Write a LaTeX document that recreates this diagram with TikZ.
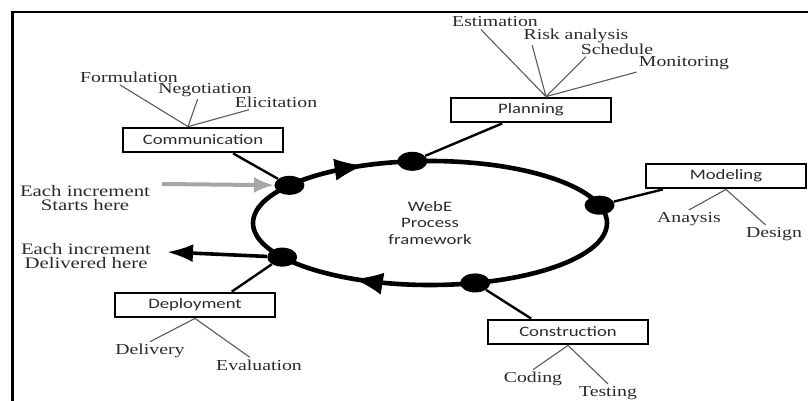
\documentclass[tikz,border=0pt]{standalone}
\usepackage{fontspec}
\setmainfont[FakeStretch = 1.3]{Liberation Serif}
\setsansfont[FakeStretch = 1.3]{Carlito}
\usetikzlibrary{shapes.geometric}
\usetikzlibrary{decorations.markings}
\usetikzlibrary{arrows.meta}
\usetikzlibrary{calc}

\definecolor{ink}{HTML}{2A2A2A}
\definecolor{twiggrey}{HTML}{5A5A5A}
\definecolor{startgrey}{HTML}{A6A6A6}

\tikzset{
  activity/.style = {draw, line width = 1.4pt, minimum width = 80pt,
    minimum height = 12pt, inner sep = 0pt, text = ink,
    font = \sffamily\fontsize{7.2}{8}\selectfont},
  task/.style = {inner sep = 1pt, text = ink,
    font = \fontsize{7.6}{8}\selectfont},
  increment/.style = {inner sep = 1pt, text = ink, align = center,
    font = \fontsize{8}{7}\selectfont},
  twig/.style = {draw = twiggrey, line width = .55pt},
  hub/.style = {ellipse, fill, minimum width = 15pt, minimum height = 9.5pt,
    inner sep = 0pt},
  spoke/.style = {line width = 1.2pt}
}

\begin{document}
\begin{tikzpicture}[x = .5pt, y = -.5pt]
  \useasboundingbox (0, 0) rectangle (808, 401);
  \draw[line width = 1.5pt] (12, 401) -- (12, 12);
  \draw[line width = 1pt] (11.3, 12) -- (808, 12);

  \node[ellipse, draw, line width = 2.3pt, minimum width = 177pt,
  minimum height = 62pt, outer sep = 0pt, align = center, text = ink,
  font = \sffamily\fontsize{7.2}{8.3}\selectfont] (ring) at (430, 223)
  {WebE\\Process\\framework};
  \path[decoration = {markings,
    mark = at position .345 with {\arrow{Latex[length = 14pt, width = 11pt]}},
    mark = at position .665 with {\arrow{Latex[length = 14pt, width = 11pt]}}},
  postaction = decorate] (ring.center) ellipse [x radius = 177, y radius = 62];

  \node[hub] (comdot) at (ring.165) {};
  \node[hub] (plandot) at (ring.106) {};
  \node[hub] (modeldot) at (ring.6) {};
  \node[hub] (constrdot) at (ring.-53) {};
  \node[hub] (deploydot) at (ring.193) {};

  \node[activity] (comm) at (203, 140) {Communication};
  \node[activity] (plan) at (531, 110) {Planning};
  \node[activity] (model) at (726, 176) {Modeling};
  \node[activity] (constr) at (568, 332) {Construction};
  \node[activity] (deploy) at (195, 305) {Deployment};

  \draw[spoke] (comm.-24) -- (comdot);
  \draw[spoke] (plan.205) -- (plandot);
  \draw[spoke] (model.192) -- (modeldot);
  \draw[spoke] (constr.160) -- (constrdot);
  \draw[spoke] (deploy.20) -- (deploydot);

  \node[task] (form) at (129, 77) {Formulation};
  \node[task] (nego) at (205, 90) {Negotiation};
  \node[task] (elic) at (276, 102) {Elicitation};
  \coordinate (commfork) at ($(comm.north) + (-15, 0)$);
  \draw[twig] (form.220) -- (commfork) -- (nego.231)
  (commfork) -- (elic.196);

  \node[task] (estim) at (495, 22) {Estimation};
  \node[task] (risk) at (576, 36) {Risk analysis};
  \node[task] (sched) at (617, 49) {Schedule};
  \node[task] (monit) at (684, 63) {Monitoring};
  \coordinate (planfork) at ($(plan.north) + (15, 0)$);
  \draw[twig] (estim.208) -- (planfork) -- (risk.192)
  (planfork) -- (sched.194) (planfork) -- (monit.south west);

  \node[task] (anay) at (689, 219) {Anaysis};
  \node[task] (design) at (774, 234) {Design};
  \draw[twig] (anay.north) -- (model.south) -- (design.133);

  \node[task] (coding) at (533, 379) {Coding};
  \node[task] (testing) at (608, 393) {Testing};
  \draw[twig] (coding.north) -- (constr.south) -- (testing.north);

  \node[task] (deliv) at (150, 351) {Delivery};
  \node[task] (evalu) at (259, 365) {Evaluation};
  \draw[twig] (deliv.north) -- (deploy.south) -- (evalu.140);

  \node[increment] (starts) at (85, 198) {Each increment\\Starts here};
  \node[increment] (delivered) at (86, 256)
  {Each increment\\Delivered here};
  \coordinate (startin) at (162, 184);
  \coordinate (handout) at (167, 252);
  \draw[startgrey, line width = 2pt,
  -{Latex[length = 10pt, width = 8pt]}] (startin) -- (comdot);
  \draw[line width = 1.8pt,
  -{Latex[length = 13pt, width = 9pt]}] (deploydot) -- (handout);
\end{tikzpicture}
\end{document}
